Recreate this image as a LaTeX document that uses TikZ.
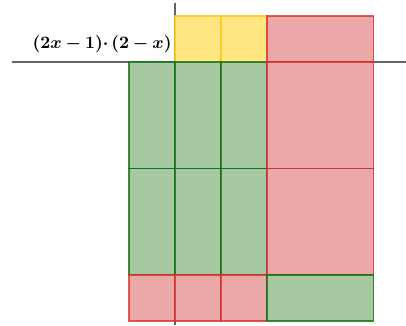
\documentclass[tikz,border=0pt]{standalone}
\usepackage{amsmath,bm}
\usepackage{tikz}
\usetikzlibrary{calc}
\definecolor{tilegreen}{RGB}{166,201,164}
\definecolor{edgegreen}{RGB}{20,110,20}
\definecolor{tilered}{RGB}{234,168,168}
\definecolor{edgered}{RGB}{215,40,40}
\definecolor{tileyellow}{RGB}{255,230,130}
\definecolor{edgeyellow}{RGB}{250,200,20}
\definecolor{axisgray}{RGB}{100,100,100}
\tikzset{
  postile/.style={fill=tilegreen,draw=edgegreen,draw opacity=.8,line width=1.6pt},
  negtile/.style={fill=tilered,draw=edgered,draw opacity=.75,line width=1.6pt},
  unittile/.style={fill=tileyellow,draw=edgeyellow,draw opacity=.8,line width=1.6pt},
  axisline/.style={axisgray,line width=1.4pt},
}
\begin{document}
\begin{tikzpicture}[x=1pt,y=1pt]
        \useasboundingbox (-175, -263) rectangle (231, 62);
        % axes
        \draw[axisline](-163, 0) -- (231, 0);
        \draw[axisline](0, 59) -- (0, -263);
        % factor along the top: 2 - x
        \filldraw[unittile](0, 0) rectangle (46, 46);
        \filldraw[unittile](46, 0) rectangle (92, 46);
        \filldraw[negtile](92, 0) rectangle (198.5, 46);
        % factor along the left: 2x - 1
        \filldraw[postile](-46, 0) rectangle (0, -106.5);
        \filldraw[postile](-46, -106.5) rectangle (0, -213);
        \filldraw[negtile](-46, -213) rectangle (0, -259);
        % product
        \filldraw[postile](0, 0) rectangle (46, -106.5);
        \filldraw[postile](46, 0) rectangle (92, -106.5);
        \filldraw[postile](0, -106.5) rectangle (46, -213);
        \filldraw[postile](46, -106.5) rectangle (92, -213);
        \filldraw[negtile](92, 0) rectangle (198.5, -106.5);
        \filldraw[negtile](92, -106.5) rectangle (198.5, -213);
        \filldraw[negtile](0, -213) rectangle (46, -259);
        \filldraw[negtile](46, -213) rectangle (92, -259);
        \filldraw[postile](92, -213) rectangle (198.5, -259);
        \node (label) at (-3, 18) [left,inner sep=0pt,scale=1.74] {$\bm{(2x-1){\cdot}\,(2-x)}$};
    \end{tikzpicture}
\end{document}
